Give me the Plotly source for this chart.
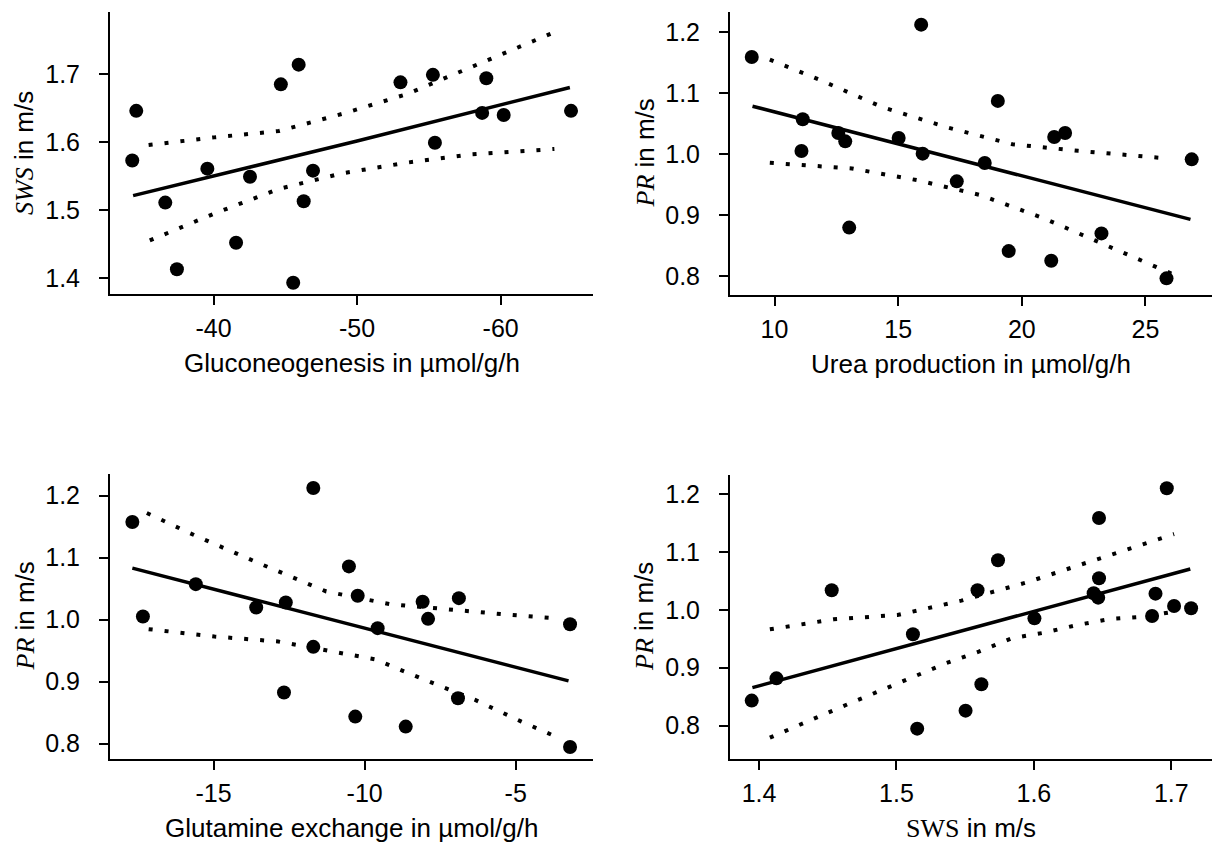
import plotly.graph_objects as go

# ---------------- data ----------------
# Panel A: Gluconeogenesis vs SWS
gluco_x = [-34.34, -34.62, -36.64, -37.45, -39.57, -41.57, -42.54, -44.69, -45.55, -45.93,
           -46.28, -46.93, -53.02, -55.28, -55.42, -58.71, -59.0, -60.21, -64.9]
gluco_y = [1.573, 1.646, 1.511, 1.413, 1.561, 1.452, 1.549, 1.685, 1.393, 1.714,
           1.513, 1.558, 1.688, 1.699, 1.599, 1.643, 1.694, 1.640, 1.646]
gluco_fit_x = [-34.40, -50.0, -64.82]
gluco_fit_y = [1.5213, 1.6016, 1.6804]
gluco_up_x = [-35.48, -40.05, -44.55, -49.07, -53.46, -57.95, -63.61]
gluco_up_y = [1.5957, 1.607, 1.6163, 1.6422, 1.6706, 1.7098, 1.7607]
gluco_lo_x = [-35.56, -40.11, -44.55, -48.94, -53.46, -58.01, -63.74]
gluco_lo_y = [1.4553, 1.4954, 1.5311, 1.5541, 1.5698, 1.5820, 1.5899]
gluco_ticks = [-40, -50, -60]
gluco_ticklabels = ["-40", "-50", "-60"]

# Panel B: Urea production vs PR
urea_x = [9.08, 15.93, 11.14, 11.09, 12.58, 12.86, 13.02, 15.02, 15.99, 17.37,
          18.50, 19.03, 19.47, 21.19, 21.31, 21.75, 23.22, 25.85, 26.87]
urea_y = [1.1596, 1.2126, 1.0576, 1.0054, 1.0349, 1.0213, 0.8799, 1.0267, 1.0011, 0.9557,
          0.9858, 1.0876, 0.8414, 0.8255, 1.0283, 1.0349, 0.8704, 0.7967, 0.9918]
urea_fit_x = [9.11, 18.0, 26.82]
urea_fit_y = [1.0789, 0.9857, 0.8933]
urea_up_x = [9.81, 11.77, 14.40, 17.01, 19.62, 22.28, 25.61]
urea_up_y = [1.1553, 1.1231, 1.0767, 1.0439, 1.0166, 1.0057, 0.9942]
urea_lo_x = [9.81, 13.13, 15.76, 18.34, 20.96, 23.58, 26.28]
urea_lo_y = [0.9861, 0.9768, 0.9577, 0.9331, 0.8939, 0.8486, 0.8005]
urea_ticks = [10, 15, 20, 25]
urea_ticklabels = ["10", "15", "20", "25"]

# Panel C: Glutamine exchange vs PR
glut_x = [-17.69, -17.34, -15.59, -13.59, -12.61, -12.67, -11.70, -11.70, -10.52, -10.23,
          -10.31, -9.57, -8.64, -8.08, -7.90, -6.88, -6.91, -3.20, -3.20]
glut_y = [1.1575, 1.0051, 1.0573, 1.0197, 1.0277, 0.8824, 1.2124, 0.9561, 1.0859, 1.0385,
          0.8436, 0.9863, 0.8275, 1.0288, 1.0013, 1.0347, 0.8732, 0.9927, 0.7946]
glut_fit_x = [-17.69, -10.5, -3.25]
glut_fit_y = [1.0832, 0.9925, 0.9012]
glut_up_x = [-17.21, -15.55, -13.38, -11.27, -9.16, -6.98, -5.45, -3.72]
glut_up_y = [1.172, 1.1343, 1.0886, 1.0455, 1.025, 1.0148, 1.0089, 1.0024]
glut_lo_x = [-17.15, -14.97, -12.86, -11.27, -9.67, -8.0, -6.34, -4.81, -3.72]
glut_lo_y = [0.9847, 0.9728, 0.9647, 0.9513, 0.9362, 0.9028, 0.8705, 0.8355, 0.8124]
glut_ticks = [-15, -10, -5]
glut_ticklabels = ["-15", "-10", "-5"]

# Panel D: SWS vs PR
sws_x = [1.3947, 1.4127, 1.4529, 1.5120, 1.5151, 1.5503, 1.5590, 1.5618, 1.5739, 1.6004,
         1.6435, 1.6474, 1.6474, 1.6468, 1.6860, 1.6885, 1.6967, 1.7020, 1.7144]
sws_y = [0.8432, 0.8817, 1.0337, 0.9577, 0.7948, 0.8259, 1.0337, 0.8714, 1.0855, 0.9853,
         1.0285, 1.1586, 1.0544, 1.0210, 0.9894, 1.0279, 1.2098, 1.0066, 1.0026]
sws_fit_x = [1.3952, 1.555, 1.7138]
sws_fit_y = [0.8656, 0.9684, 1.0705]
sws_up_x = [1.4079, 1.4543, 1.5008, 1.5472, 1.5950, 1.6429, 1.6781, 1.7020]
sws_up_y = [0.9663, 0.9836, 0.9911, 1.0158, 1.0475, 1.0849, 1.1131, 1.1309]
sws_lo_x = [1.4079, 1.4425, 1.4661, 1.4895, 1.5134, 1.5359, 1.5599, 1.5838, 1.6077,
            1.6316, 1.6556, 1.6795, 1.7020]
sws_lo_y = [0.7793, 0.8155, 0.8386, 0.8616, 0.8858, 0.9076, 0.9278, 0.9508, 0.9606,
            0.9738, 0.9842, 0.9882, 0.9968]
sws_ticks = [1.4, 1.5, 1.6, 1.7]
sws_ticklabels = ["1.4", "1.5", "1.6", "1.7"]

x_titles = ["Gluconeogenesis in \u00b5mol/g/h", "Urea production in \u00b5mol/g/h",
            "Glutamine exchange in \u00b5mol/g/h",
            "<span style=\"font-family:Liberation Serif\">SWS</span> in m/s"]
y_titles = ["<span style=\"font-family:Liberation Serif\"><i>SWS</i></span> in m/s",
            "<span style=\"font-family:Liberation Serif\"><i>PR</i></span> in m/s",
            "<span style=\"font-family:Liberation Serif\"><i>PR</i></span> in m/s",
            "<span style=\"font-family:Liberation Serif\"><i>PR</i></span> in m/s"]

# ---------------- figure ----------------
W, H = 1212, 847
FONT = "Liberation Sans, Arial, sans-serif"
TICK_SIZE = 25
TITLE_SIZE = 26

panels = [
    dict(px=gluco_x, py=gluco_y, fx=gluco_fit_x, fy=gluco_fit_y, ux=gluco_up_x, uy=gluco_up_y,
         lx=gluco_lo_x, ly=gluco_lo_y,
         xdom=(110, 593), ydom=(12, 294), xr=[-32.79, -66.43], yr=[1.3765, 1.7915],
         xt=gluco_ticks, xtt=gluco_ticklabels, yt=[1.4, 1.5, 1.6, 1.7]),
    dict(px=urea_x, py=urea_y, fx=urea_fit_x, fy=urea_fit_y, ux=urea_up_x, uy=urea_up_y,
         lx=urea_lo_x, ly=urea_lo_y,
         xdom=(730, 1212), ydom=(12, 295), xr=[8.20, 27.69], yr=[0.7694, 1.2333],
         xt=urea_ticks, xtt=urea_ticklabels, yt=[0.8, 0.9, 1.0, 1.1, 1.2]),
    dict(px=glut_x, py=glut_y, fx=glut_fit_x, fy=glut_fit_y, ux=glut_up_x, uy=glut_up_y,
         lx=glut_lo_x, ly=glut_lo_y,
         xdom=(110, 593), ydom=(474, 759), xr=[-18.43, -2.44], yr=[0.7752, 1.235],
         xt=glut_ticks, xtt=glut_ticklabels, yt=[0.8, 0.9, 1.0, 1.1, 1.2]),
    dict(px=sws_x, py=sws_y, fx=sws_fit_x, fy=sws_fit_y, ux=sws_up_x, uy=sws_up_y,
         lx=sws_lo_x, ly=sws_lo_y,
         xdom=(730, 1212), ydom=(475, 759), xr=[1.3789, 1.7296], yr=[0.7424, 1.2328],
         xt=sws_ticks, xtt=sws_ticklabels, yt=[0.8, 0.9, 1.0, 1.1, 1.2]),
]

fig = go.Figure()
layout = dict(width=W, height=H, margin=dict(l=0, r=0, t=0, b=0),
              paper_bgcolor="white", plot_bgcolor="white", showlegend=False,
              template="none", font=dict(family=FONT, color="black"))
annotations = []

for i, p in enumerate(panels):
    n = "" if i == 0 else str(i + 1)
    xa, ya = "x" + n, "y" + n
    fig.add_trace(go.Scatter(x=p["ux"], y=p["uy"], mode="lines", xaxis=xa, yaxis=ya,
                             line=dict(color="black", width=4, dash="4px,12px")))
    fig.add_trace(go.Scatter(x=p["lx"], y=p["ly"], mode="lines", xaxis=xa, yaxis=ya,
                             line=dict(color="black", width=4, dash="4px,12px")))
    fig.add_trace(go.Scatter(x=p["fx"], y=p["fy"], mode="lines", xaxis=xa, yaxis=ya,
                             line=dict(color="black", width=3.5)))
    fig.add_trace(go.Scatter(x=p["px"], y=p["py"], mode="markers", xaxis=xa, yaxis=ya,
                             marker=dict(color="black", size=14, line=dict(width=0))))
    x0, x1 = p["xdom"]
    y0, y1 = p["ydom"]
    common = dict(showline=True, linecolor="black", linewidth=2, ticks="outside",
                  ticklen=9, tickwidth=2, tickcolor="black", showgrid=False, zeroline=False,
                  automargin=False, tickfont=dict(size=TICK_SIZE, family=FONT, color="black"))
    layout["xaxis" + n] = dict(common, domain=[x0 / W, x1 / W], range=p["xr"],
                               anchor=ya, tickvals=p["xt"], ticktext=p["xtt"],
                               ticklabelstandoff=2)
    layout["yaxis" + n] = dict(common, domain=[1 - y1 / H, 1 - y0 / H], range=p["yr"],
                               anchor=xa, tickvals=p["yt"], tickformat=".1f",
                               ticklabelstandoff=14)
    # axis titles
    annotations.append(dict(text=x_titles[i], xref="paper", yref="paper",
                            x=(x0 + x1) / 2 / W, y=1 - (y1 + 69) / H,
                            xanchor="center", yanchor="middle", showarrow=False,
                            font=dict(size=TITLE_SIZE, family=FONT, color="black")))
    annotations.append(dict(text=y_titles[i], xref="paper", yref="paper",
                            x=(x0 - 86) / W, y=1 - (y0 + y1) / 2 / H, textangle=-90,
                            xanchor="center", yanchor="middle", showarrow=False,
                            font=dict(size=TITLE_SIZE, family=FONT, color="black")))

layout["annotations"] = annotations
fig.update_layout(**layout)
fig.write_html("out.html")
